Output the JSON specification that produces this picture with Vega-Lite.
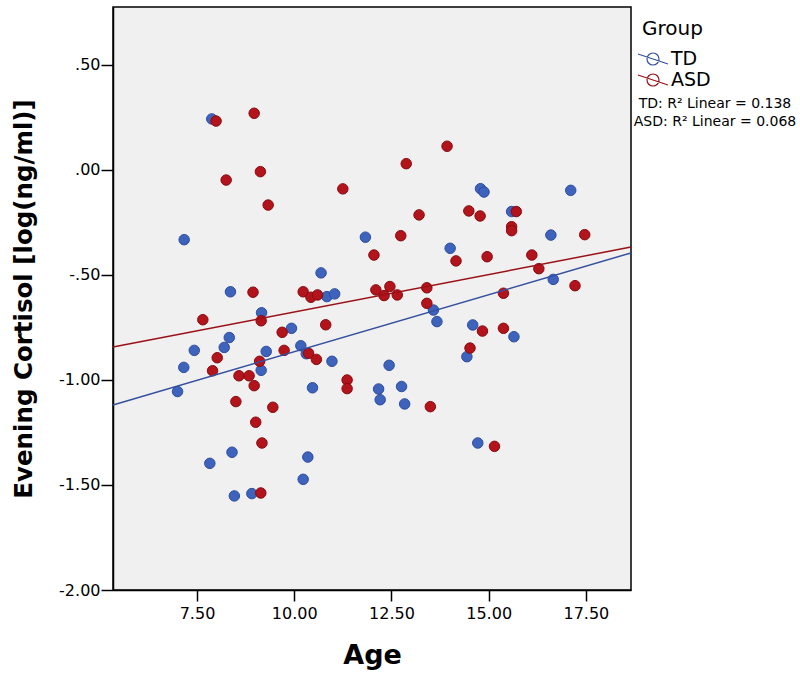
{
  "$schema": "https://vega.github.io/schema/vega-lite/v6.json",
  "width": 518,
  "height": 583,
  "autosize": {"type": "none"},
  "padding": {"left": 113, "top": 7, "right": 169, "bottom": 89},
  "background": "white",
  "config": {
    "view": {"fill": "#f0f0f0", "stroke": "black", "strokeWidth": 1.5},
    "font": "DejaVu Sans",
    "axis": {
      "domainColor": "black", "domainWidth": 1.5,
      "tickColor": "black", "tickWidth": 1.5,
      "labelColor": "black", "titleColor": "black",
      "grid": false,
      "labelFont": "DejaVu Sans", "labelFontSize": 16,
      "titleFont": "DejaVu Sans", "titleFontSize": 27, "titleFontWeight": "bold"
    }
  },
  "datasets": {
    "points": [
      {"group": "TD", "age": 7.88, "cortisol": 0.243},
      {"group": "TD", "age": 7.17, "cortisol": -0.332},
      {"group": "TD", "age": 11.83, "cortisol": -0.32},
      {"group": "TD", "age": 10.69, "cortisol": -0.49},
      {"group": "TD", "age": 8.36, "cortisol": -0.58},
      {"group": "TD", "age": 10.84, "cortisol": -0.603},
      {"group": "TD", "age": 11.04, "cortisol": -0.59},
      {"group": "TD", "age": 9.16, "cortisol": -0.68},
      {"group": "TD", "age": 14.79, "cortisol": -0.089},
      {"group": "TD", "age": 14.88, "cortisol": -0.105},
      {"group": "TD", "age": 17.11, "cortisol": -0.097},
      {"group": "TD", "age": 15.59, "cortisol": -0.198},
      {"group": "TD", "age": 16.6, "cortisol": -0.31},
      {"group": "TD", "age": 14.01, "cortisol": -0.373},
      {"group": "TD", "age": 16.66, "cortisol": -0.521},
      {"group": "TD", "age": 13.58, "cortisol": -0.667},
      {"group": "TD", "age": 13.67, "cortisol": -0.722},
      {"group": "TD", "age": 14.59, "cortisol": -0.738},
      {"group": "TD", "age": 15.65, "cortisol": -0.794},
      {"group": "TD", "age": 14.44, "cortisol": -0.889},
      {"group": "TD", "age": 12.44, "cortisol": -0.93},
      {"group": "TD", "age": 12.17, "cortisol": -1.043},
      {"group": "TD", "age": 12.21, "cortisol": -1.094},
      {"group": "TD", "age": 12.76, "cortisol": -1.031},
      {"group": "TD", "age": 12.84, "cortisol": -1.114},
      {"group": "TD", "age": 14.72, "cortisol": -1.3},
      {"group": "TD", "age": 9.93, "cortisol": -0.754},
      {"group": "TD", "age": 8.33, "cortisol": -0.798},
      {"group": "TD", "age": 7.43, "cortisol": -0.859},
      {"group": "TD", "age": 8.2, "cortisol": -0.845},
      {"group": "TD", "age": 10.17, "cortisol": -0.837},
      {"group": "TD", "age": 10.31, "cortisol": -0.875},
      {"group": "TD", "age": 10.97, "cortisol": -0.911},
      {"group": "TD", "age": 9.28, "cortisol": -0.864},
      {"group": "TD", "age": 9.15, "cortisol": -0.954},
      {"group": "TD", "age": 7.16, "cortisol": -0.94},
      {"group": "TD", "age": 7.0, "cortisol": -1.055},
      {"group": "TD", "age": 10.47, "cortisol": -1.037},
      {"group": "TD", "age": 8.4, "cortisol": -1.344},
      {"group": "TD", "age": 7.83, "cortisol": -1.397},
      {"group": "TD", "age": 10.35, "cortisol": -1.367},
      {"group": "TD", "age": 10.23, "cortisol": -1.473},
      {"group": "TD", "age": 8.46, "cortisol": -1.552},
      {"group": "TD", "age": 8.91, "cortisol": -1.541},
      {"group": "ASD", "age": 7.99, "cortisol": 0.233},
      {"group": "ASD", "age": 8.97, "cortisol": 0.27},
      {"group": "ASD", "age": 8.25, "cortisol": -0.048},
      {"group": "ASD", "age": 9.13, "cortisol": -0.008},
      {"group": "ASD", "age": 9.33, "cortisol": -0.167},
      {"group": "ASD", "age": 11.25, "cortisol": -0.09},
      {"group": "ASD", "age": 8.94, "cortisol": -0.582},
      {"group": "ASD", "age": 10.23, "cortisol": -0.58},
      {"group": "ASD", "age": 10.43, "cortisol": -0.606},
      {"group": "ASD", "age": 10.6, "cortisol": -0.595},
      {"group": "ASD", "age": 12.05, "cortisol": -0.405},
      {"group": "ASD", "age": 12.74, "cortisol": -0.313},
      {"group": "ASD", "age": 12.88, "cortisol": 0.03},
      {"group": "ASD", "age": 13.93, "cortisol": 0.113},
      {"group": "ASD", "age": 13.21, "cortisol": -0.214},
      {"group": "ASD", "age": 14.49, "cortisol": -0.195},
      {"group": "ASD", "age": 14.78, "cortisol": -0.219},
      {"group": "ASD", "age": 15.71, "cortisol": -0.198},
      {"group": "ASD", "age": 15.59, "cortisol": -0.27},
      {"group": "ASD", "age": 15.59, "cortisol": -0.289},
      {"group": "ASD", "age": 17.47, "cortisol": -0.308},
      {"group": "ASD", "age": 14.16, "cortisol": -0.433},
      {"group": "ASD", "age": 14.96, "cortisol": -0.413},
      {"group": "ASD", "age": 16.11, "cortisol": -0.405},
      {"group": "ASD", "age": 16.29, "cortisol": -0.47},
      {"group": "ASD", "age": 17.22, "cortisol": -0.551},
      {"group": "ASD", "age": 12.1, "cortisol": -0.571},
      {"group": "ASD", "age": 12.31, "cortisol": -0.598},
      {"group": "ASD", "age": 12.46, "cortisol": -0.555},
      {"group": "ASD", "age": 12.65, "cortisol": -0.595},
      {"group": "ASD", "age": 13.41, "cortisol": -0.561},
      {"group": "ASD", "age": 13.41, "cortisol": -0.635},
      {"group": "ASD", "age": 15.38, "cortisol": -0.587},
      {"group": "ASD", "age": 14.84, "cortisol": -0.767},
      {"group": "ASD", "age": 15.38, "cortisol": -0.754},
      {"group": "ASD", "age": 14.52, "cortisol": -0.848},
      {"group": "ASD", "age": 13.5, "cortisol": -1.127},
      {"group": "ASD", "age": 15.15, "cortisol": -1.316},
      {"group": "ASD", "age": 9.15, "cortisol": -0.718},
      {"group": "ASD", "age": 7.65, "cortisol": -0.713},
      {"group": "ASD", "age": 10.81, "cortisol": -0.737},
      {"group": "ASD", "age": 9.69, "cortisol": -0.773},
      {"group": "ASD", "age": 9.74, "cortisol": -0.859},
      {"group": "ASD", "age": 10.37, "cortisol": -0.873},
      {"group": "ASD", "age": 10.57, "cortisol": -0.902},
      {"group": "ASD", "age": 8.02, "cortisol": -0.894},
      {"group": "ASD", "age": 9.11, "cortisol": -0.911},
      {"group": "ASD", "age": 7.9, "cortisol": -0.956},
      {"group": "ASD", "age": 8.58, "cortisol": -0.98},
      {"group": "ASD", "age": 8.84, "cortisol": -0.98},
      {"group": "ASD", "age": 8.97, "cortisol": -1.027},
      {"group": "ASD", "age": 11.36, "cortisol": -1.0},
      {"group": "ASD", "age": 11.36, "cortisol": -1.041},
      {"group": "ASD", "age": 8.5, "cortisol": -1.103},
      {"group": "ASD", "age": 9.45, "cortisol": -1.13},
      {"group": "ASD", "age": 9.01, "cortisol": -1.201},
      {"group": "ASD", "age": 9.17, "cortisol": -1.3},
      {"group": "ASD", "age": 9.14, "cortisol": -1.538}
    ],
    "fits": [
      {"group": "TD", "age": 5.34, "cortisol": -1.119},
      {"group": "TD", "age": 18.66, "cortisol": -0.395},
      {"group": "ASD", "age": 5.34, "cortisol": -0.843},
      {"group": "ASD", "age": 18.66, "cortisol": -0.367}
    ],
    "r2": [
      {"label": "TD: R² Linear = 0.138"},
      {"label": "ASD: R² Linear = 0.068"}
    ]
  },
  "layer": [
    {
      "layer": [
        {
          "data": {"name": "points"},
          "mark": {"type": "point", "filled": true, "size": 110, "strokeWidth": 1, "opacity": 1, "shape": "circle"},
          "encoding": {
            "x": {
              "field": "age", "type": "quantitative",
              "scale": {"domain": [5.34, 18.66], "nice": false, "zero": false},
              "axis": {"values": [7.5, 10, 12.5, 15, 17.5], "format": ".2f", "title": "Age", "tickSize": 11, "labelPadding": 4, "titlePadding": 21}
            },
            "y": {
              "field": "cortisol", "type": "quantitative",
              "scale": {"domain": [-2.0, 0.776], "nice": false, "zero": false},
              "axis": {
                "values": [-2, -1.5, -1, -0.5, 0, 0.5],
                "labelExpr": "replace(replace(format(datum.value, '.2f'), '0.', '.'), '−', '-')",
                "title": "Evening Cortisol [log(ng/ml)]",
                "titleFontSize": 24.5,
                "tickSize": 12, "labelPadding": 1, "titlePadding": 22
              }
            },
            "fill": {"condition": {"test": "datum.group === 'TD'", "value": "#3d63bd"}, "value": "#b3131a"},
            "stroke": {"condition": {"test": "datum.group === 'TD'", "value": "#2f4c9e"}, "value": "#870b11"}
          }
        },
        {
          "data": {"name": "fits"},
          "mark": {"type": "line", "strokeWidth": 1.5},
          "encoding": {
            "x": {"field": "age", "type": "quantitative"},
            "y": {"field": "cortisol", "type": "quantitative"},
            "color": {
              "field": "group", "type": "nominal",
              "scale": {"domain": ["TD", "ASD"], "range": ["#34509f", "#9a1016"]},
              "legend": {
                "title": "Group", "orient": "none", "legendX": 529, "legendY": 12,
                "titleFontSize": 20, "titleFontWeight": "normal", "titleColor": "black", "titleFont": "DejaVu Sans",
                "titlePadding": 9,
                "labelFontSize": 19, "labelColor": "black", "labelFont": "DejaVu Sans", "labelOffset": 7,
                "symbolType": "M-1.5,-0.5L1.5,0.5M-0.6,0A0.6,0.6 0 1,0 0.6,0A0.6,0.6 0 1,0 -0.6,0",
                "symbolSize": 400, "symbolStrokeWidth": 1.2, "symbolFillColor": "transparent", "rowPadding": -2
              }
            },
            "detail": {"field": "group"}
          }
        }
      ]
    },
    {
      "data": {"name": "r2"},
      "mark": {"type": "text", "fontSize": 14, "font": "DejaVu Sans", "color": "black", "align": "center", "baseline": "middle"},
      "encoding": {
        "x": {"datum": 20.82, "type": "quantitative"},
        "y": {
          "field": "label", "type": "nominal",
          "scale": {"type": "point", "domain": ["TD: R² Linear = 0.138", "ASD: R² Linear = 0.068"], "range": [97, 115], "padding": 0},
          "axis": null
        },
        "text": {"field": "label"}
      }
    }
  ],
  "resolve": {"scale": {"y": "independent"}}
}
